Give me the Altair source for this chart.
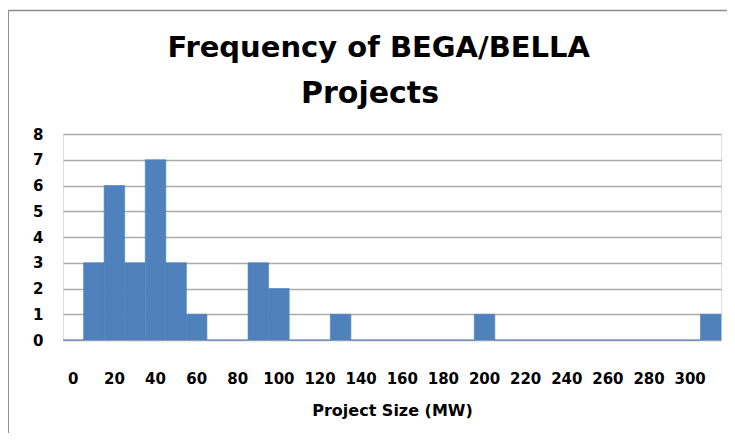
import altair as alt
import pandas as pd

bins = [0, 10, 20, 30, 40, 50, 60, 70, 80, 90, 100, 110, 120, 130, 140, 150,
        160, 170, 180, 190, 200, 210, 220, 230, 240, 250, 260, 270, 280, 290, 300, 310]
counts = [0, 3, 6, 3, 7, 3, 1, 0, 0, 3, 2, 0, 0, 1, 0, 0,
          0, 0, 0, 0, 1, 0, 0, 0, 0, 0, 0, 0, 0, 0, 0, 1]
title_line1 = "Frequency of BEGA/BELLA"
title_line2 = "Projects"
x_title = "Project Size (MW)"

df = pd.DataFrame({"size": bins, "count": counts})

FONT = "DejaVu Sans"
BLUE = "#4f81bd"

bars = alt.Chart(df).mark_bar(color=BLUE, stroke=BLUE, strokeWidth=0.6).encode(
    x=alt.X("size:O", sort="ascending",
            scale=alt.Scale(paddingInner=0, paddingOuter=0),
            axis=alt.Axis(title=x_title, labelAngle=0,
                          labelExpr="datum.value % 20 === 0 ? datum.label : ''",
                          ticks=False, tickSize=0, domain=False,
                          labelPadding=31, labelFont=FONT, labelFontWeight="bold",
                          labelFontSize=15, labelColor="black",
                          titleFont=FONT, titleFontWeight="bold", titleFontSize=16,
                          titleColor="black", titleY=70, titleBaseline="middle")),
    y=alt.Y("count:Q", scale=alt.Scale(domain=[0, 8], nice=False),
            axis=alt.Axis(title=None, values=list(range(0, 9)), grid=True,
                          gridColor="#ababab", gridWidth=1.5,
                          ticks=False, tickSize=0, domain=False, labelPadding=20,
                          labelFont=FONT, labelFontWeight="bold", labelFontSize=15,
                          labelColor="black")),
)

one = alt.Data(values=[{"k": 1}])

frame_top = alt.Chart(one).mark_rule(color="#8c8c8c", strokeWidth=1.5, clip=False).encode(
    x=alt.value(-54.8), x2=alt.value(664), y=alt.value(-123.5), y2=alt.value(-123.5))
frame_left = alt.Chart(one).mark_rule(color="#8c8c8c", strokeWidth=1.5, clip=False).encode(
    x=alt.value(-54.8), x2=alt.value(-54.8), y=alt.value(-123.5), y2=alt.value(300))

t1 = alt.Chart(one).mark_text(font=FONT, fontWeight="bold", fontSize=29, color="black",
                               align="center", baseline="alphabetic").encode(
    x=alt.value(315.7), y=alt.value(-77), text=alt.value(title_line1))
t2 = alt.Chart(one).mark_text(font=FONT, fontWeight="bold", fontSize=30, color="black",
                               align="center", baseline="alphabetic").encode(
    x=alt.value(307), y=alt.value(-31), text=alt.value(title_line2))

chart = alt.layer(frame_top, frame_left, t1, t2, bars).properties(
    width=658, height=206,
    autosize=alt.AutoSizeParams(type="none"),
    padding={"left": 55, "top": 126, "right": 6, "bottom": 93},
).configure_view(stroke=None).configure(background="white")

chart.save("out.html", embed_options={"renderer": "svg", "actions": False})
